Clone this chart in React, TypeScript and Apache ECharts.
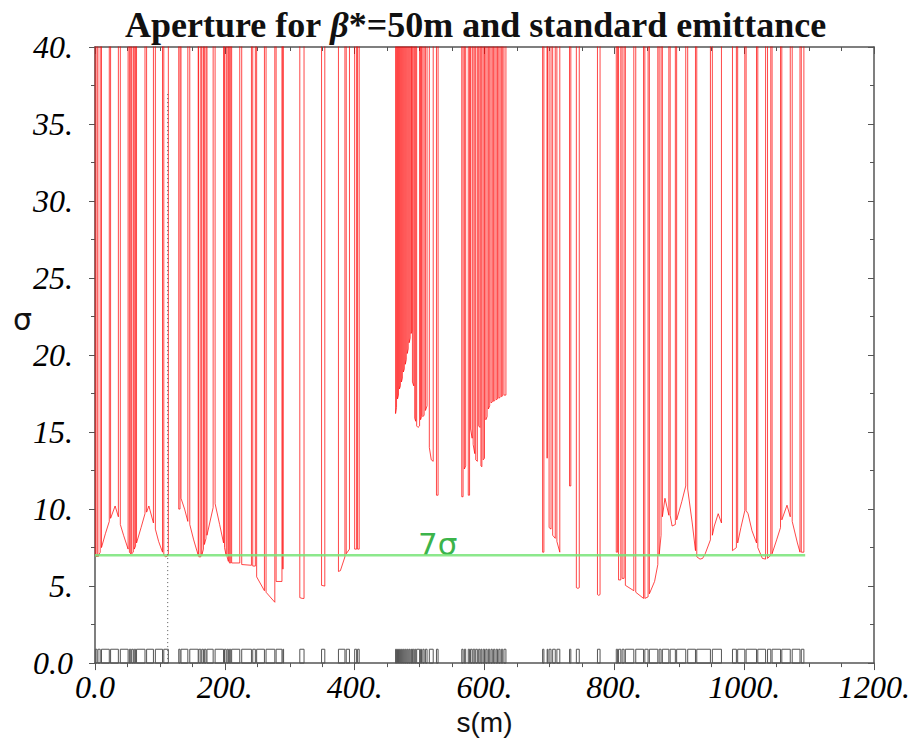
import React, { useEffect, useRef } from "react";
import * as echarts from "echarts";

// Tick labels
const xTicks = [0, 200, 400, 600, 800, 1000, 1200];
const yTicks = [0, 5, 10, 15, 20, 25, 30, 35, 40];

// Off-scale aperture value (drawn above the frame, clipped)
const TOP = 100;

// Aperture elements: each a list of [s (m), aperture (sigma)]
const arcLeft: [number, number][][] = [
  [[0.5, 7.0], [3, 6.9]],
  [[4.5, 6.9], [8, 7.2]],
  [[10, 7.5], [16, 8.4], [22, 9.2]],
  [[24, 9.4], [31, 10.2], [36, 9.5]],
  [[39, 9.0], [44, 8.3], [51, 7.4]],
  [[53, 7.2], [55, 7.1]],
  [[56.5, 7.1], [59, 7.2]],
  [[60.5, 7.4], [62.5, 7.6]],
  [[64, 7.8], [71, 8.8], [77, 9.7]],
  [[79.5, 9.8], [83, 10.2], [90, 9.1]],
  [[93, 8.7], [98, 7.9], [104, 7.2]],
  [[106, 7.0], [109, 6.9], [113, 7.0]],
  [[129, 10.0], [131, 10.0]],
  [[132.5, 10.7], [138, 10.0], [143, 9.2]],
  [[146, 9.0], [152, 8.0], [159, 7.0]],
  [[160, 6.9], [163, 6.9]],
  [[164.5, 7.0], [167, 7.4]],
  [[168.5, 7.7], [171, 8.1]],
  [[172.5, 8.3], [182, 10.1]],
  [[185, 10.35], [192, 9.0], [198, 7.8]],
  [[199.5, 7.5], [202, 7.0]],
  [[203.5, 6.9], [205.5, 6.6]],
  [[207, 6.5], [209, 6.5]],
  [[210.5, 6.5], [223, 6.5]],
  [[226, 6.4], [241, 6.35]],
  [[243, 6.3], [247, 6.3]],
  [[249, 5.6], [261, 4.7]],
  [[263.5, 4.6], [277, 3.95]],
  [[279, 5.3], [288, 5.3]],
  [[289.5, 6.1], [290.5, 6.1]],
  [[315.5, 4.25], [319, 4.2], [322, 4.2]],
  [[349, 5.05], [354, 5.0]],
  [[375, 5.95], [378, 6.0], [385, 6.9]],
  [[387, 7.1], [392, 7.4]],
  [[400, 7.4], [403, 7.4]],
  [[404.5, 7.4], [407, 7.4]],
];

const insertion: [number, number][][] = [
  [[463, 16.2], [464.5, 16.6]],
  [[466, 17.15], [467.5, 17.4]],
  [[469, 17.8], [470.5, 18.0]],
  [[472, 18.25], [473.5, 18.5]],
  [[475, 18.9], [476.5, 19.1]],
  [[478, 19.4], [479.5, 19.7]],
  [[481, 20.1], [482.5, 20.4]],
  [[484, 20.8], [485.5, 21.1]],
  [[487, 21.4], [488, 21.55]],
  [[489, 18.25], [491, 18.0]],
  [[492.5, 15.9], [494, 15.7]],
  [[495.5, 15.4], [497.5, 15.3], [500, 15.4]],
  [[501.5, 15.8], [503, 16.0]],
  [[505, 16.0], [507, 16.1]],
  [[509, 16.4], [511.5, 16.7]],
  [[515, 14.0], [518, 13.2], [521, 13.1]],
  [[526, 10.9], [528.5, 10.9]],
  [[565, 10.8], [567, 10.8]],
  [[569, 12.6], [571, 12.8]],
  [[575, 10.9], [577, 10.9]],
  [[578.5, 15.2], [581, 14.6]],
  [[582.5, 14.2], [585, 13.6]],
  [[586.5, 13.2], [589, 13.1]],
  [[591, 15.4], [593, 15.3]],
  [[594.5, 12.8], [596, 12.75]],
  [[598, 13.2], [600, 13.3]],
  [[602, 15.8], [604, 16.0]],
  [[606, 16.5], [608, 16.7]],
  [[610, 16.9], [612, 16.95]],
  [[614, 17.0], [616, 17.05]],
  [[618, 17.1], [620, 17.15]],
  [[622, 17.2], [624, 17.25]],
  [[626, 17.3], [628, 17.35]],
  [[630, 17.4], [633, 17.4]],
];

const arcRight: [number, number][][] = [
  [[689.5, 7.2], [691.5, 7.2]],
  [[696.5, 13.3], [697.5, 13.3]],
  [[699.5, 8.8], [702.5, 8.7]],
  [[705, 8.3], [709, 8.1]],
  [[711.5, 7.9], [716, 7.2]],
  [[731, 11.5], [733, 11.5]],
  [[741.5, 4.9], [744, 4.85], [746, 4.9]],
  [[774, 4.45], [776, 4.4], [778, 4.45]],
  [[803, 7.2], [805, 7.2]],
  [[806.5, 5.4], [810, 5.4]],
  [[812, 5.5], [815, 5.5]],
  [[817, 5.05], [830, 4.7]],
  [[833, 4.6], [845, 4.2]],
  [[847, 4.2], [852, 4.3]],
  [[854, 4.5], [862, 5.3], [867, 6.4]],
  [[869, 7.0], [872, 8.3]],
  [[874, 9.5], [878, 10.7], [884, 9.6]],
  [[886, 9.6], [889, 8.9], [894, 9.0]],
  [[896, 9.3], [904, 10.5], [910, 11.5]],
  [[913, 11.3], [920, 9.1], [925, 7.3]],
  [[927, 6.9], [932, 6.75], [936, 6.8], [940, 7.1], [948, 8.0]],
  [[951, 8.3], [954, 8.9], [960, 9.7], [965, 9.1]],
  [[982, 7.3], [988, 7.5]],
  [[990, 7.8], [995, 8.8], [1001, 9.9]],
  [[1003, 9.9], [1006, 9.7], [1012, 8.6], [1019, 7.8]],
  [[1021, 7.5], [1028, 6.8], [1033, 6.75]],
  [[1036, 6.8], [1041, 7.0]],
  [[1043, 7.1], [1050, 8.0], [1056, 8.8]],
  [[1058, 9.3], [1066, 10.25], [1071, 9.5]],
  [[1074, 9.2], [1082, 7.8], [1086, 7.2]],
  [[1088, 7.2], [1092, 7.2]],
];

// 7 sigma reference line and marker
const sevenSigma: [number, number][] = [[0, 7], [1094, 7]];
const markerLine: [number, number][] = [[112, 0], [112, 37]];
const MAGNET_HEIGHT = 0.9;

const elements = [...arcLeft, ...insertion, ...arcRight];

function buildAperture(): [number, number][] {
  const out: [number, number][] = [[0, TOP]];
  for (const el of elements) {
    out.push([el[0][0], TOP]);
    for (const p of el) out.push(p);
    out.push([el[el.length - 1][0], TOP]);
  }
  return out;
}

const fmt = (v: number) => (v === 0 ? "0.0" : `${v}.`);

export default function App() {
  const ref = useRef<HTMLDivElement>(null);
  useEffect(() => {
    if (!ref.current) return;
    const chart = echarts.init(ref.current, undefined, { renderer: "svg" });
    const axisColor = "#555";
    const boxes = elements.map((el) => [el[0][0], el[el.length - 1][0]]);
    chart.setOption({
      animation: false,
      backgroundColor: "#fff",
      title: {
        text: "{a|Aperture for }{b|β}{a|*=50m and standard emittance}",
        left: 120,
        top: 2,
        textStyle: {
          rich: {
            a: { fontFamily: "Liberation Serif", fontWeight: "bold", fontSize: 36, color: "#111" },
            b: { fontFamily: "Liberation Serif", fontWeight: "bold", fontStyle: "italic", fontSize: 36, color: "#111" },
          },
        },
      },
      grid: { left: 95, right: 37, top: 47, bottom: 76 },
      xAxis: [
        {
          type: "value",
          min: 0,
          max: 1200,
          interval: 200,
          position: "bottom",
          axisLine: { show: true, onZero: false, lineStyle: { color: axisColor, width: 1.5 } },
          axisTick: { show: true, inside: false, length: 7, lineStyle: { color: axisColor } },
          minorTick: { show: true, splitNumber: 4, length: 4, lineStyle: { color: axisColor } },
          splitLine: { show: false },
          axisLabel: {
            formatter: (v: number) => (xTicks.includes(v) ? fmt(v) : ""),
            fontFamily: "Liberation Serif",
            fontStyle: "italic",
            fontSize: 32,
            color: "#000",
            margin: 8,
          },
          name: "s(m)",
          nameLocation: "middle",
          nameGap: 38,
          nameTextStyle: { fontFamily: "Liberation Sans", fontSize: 28, color: "#111", verticalAlign: "top" },
        },
        {
          type: "value",
          min: 0,
          max: 1200,
          interval: 200,
          position: "top",
          axisLine: { show: true, onZero: false, lineStyle: { color: axisColor, width: 1.5 } },
          axisTick: { show: true, inside: true, length: 7, lineStyle: { color: axisColor } },
          minorTick: { show: true, splitNumber: 4, length: 4, lineStyle: { color: axisColor } },
          splitLine: { show: false },
          axisLabel: { show: false },
        },
      ],
      yAxis: [
        {
          type: "value",
          min: 0,
          max: 40,
          interval: 5,
          position: "left",
          axisLine: { show: true, onZero: false, lineStyle: { color: axisColor, width: 1.5 } },
          axisTick: { show: true, inside: false, length: 6, lineStyle: { color: axisColor } },
          minorTick: { show: true, splitNumber: 2, length: 4, lineStyle: { color: axisColor } },
          splitLine: { show: false },
          axisLabel: {
            formatter: (v: number) => (yTicks.includes(v) ? fmt(v) : ""),
            fontFamily: "Liberation Serif",
            fontStyle: "italic",
            fontSize: 32,
            color: "#000",
            margin: 22,
          },
        },
        {
          type: "value",
          min: 0,
          max: 40,
          interval: 5,
          position: "right",
          axisLine: { show: true, onZero: false, lineStyle: { color: axisColor, width: 1.5 } },
          axisTick: { show: true, inside: true, length: 6, lineStyle: { color: axisColor } },
          minorTick: { show: true, splitNumber: 2, length: 4, lineStyle: { color: axisColor } },
          splitLine: { show: false },
          axisLabel: { show: false },
        },
      ],
      series: [
        {
          type: "line",
          name: "aperture",
          data: buildAperture(),
          xAxisIndex: 0,
          yAxisIndex: 0,
          showSymbol: false,
          symbol: "none",
          clip: true,
          silent: true,
          lineStyle: { color: "rgba(255,0,0,0.72)", width: 1 },
          z: 2,
        },
        {
          type: "line",
          name: "7sigma",
          data: sevenSigma,
          xAxisIndex: 0,
          yAxisIndex: 0,
          showSymbol: false,
          symbol: "none",
          silent: true,
          lineStyle: { color: "rgba(120,228,120,0.85)", width: 2.5 },
          z: 3,
        },
        {
          type: "line",
          name: "marker",
          data: markerLine,
          xAxisIndex: 0,
          yAxisIndex: 0,
          showSymbol: false,
          symbol: "none",
          silent: true,
          lineStyle: { color: "#555", width: 1, type: [1, 3] },
          z: 3,
        },
        {
          type: "custom",
          name: "magnets",
          xAxisIndex: 0,
          yAxisIndex: 0,
          data: boxes,
          encode: { x: [0, 1] },
          silent: true,
          renderItem: (params: any, api: any) => {
            const p0 = api.coord([api.value(0), MAGNET_HEIGHT]);
            const p1 = api.coord([api.value(1), 0]);
            return {
              type: "rect",
              shape: { x: p0[0], y: p0[1], width: p1[0] - p0[0], height: p1[1] - p0[1] },
              style: { fill: "none", stroke: "#555", lineWidth: 1 },
            };
          },
          z: 4,
        },
      ],
      graphic: [
        {
          type: "text",
          left: 13,
          top: 304,
          style: {
            text: "σ",
            fill: "#111",
            font: '30px "DejaVu Sans"',
          },
        },
        {
          type: "text",
          left: 418,
          top: 528,
          style: {
            text: "7σ",
            fill: "#3cb44b",
            font: '31px "DejaVu Sans"',
          },
        },
      ],
    });
    return () => chart.dispose();
  }, []);
  return (
    <div
      ref={ref}
      style={{ position: "fixed", left: 0, top: 0, width: 913, height: 741, background: "#fff" }}
    />
  );
}
